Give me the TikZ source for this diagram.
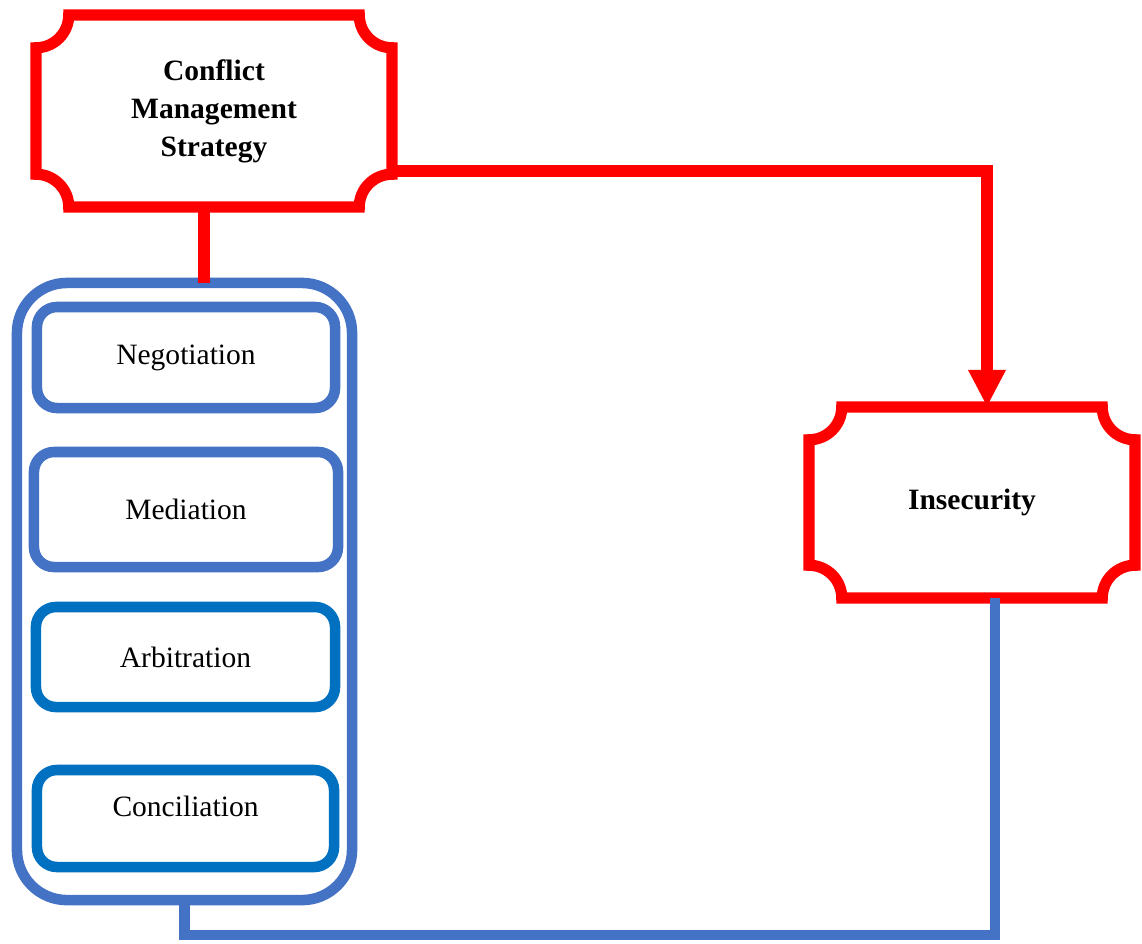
\documentclass[tikz,border=0pt]{standalone}
\usepackage{fontspec}
\setmainfont{Liberation Serif}
\usepackage{tikz}
\usetikzlibrary{arrows.meta}

\definecolor{boxred}{HTML}{FF0000}
\definecolor{boxblue}{HTML}{4472C4}
\definecolor{darkblue}{HTML}{0070C0}

\newcommand{\textsz}{\fontsize{21}{27}\selectfont}

%角を内側に丸めた枠
\newcommand{\plaqueframe}[2]{%
  \draw[redline] ([yshift=-#2]#1.north west) arc[start angle=-90, end angle=0, radius=#2]
    -- ([xshift=-#2]#1.north east) arc[start angle=180, end angle=270, radius=#2]
    -- ([yshift=#2]#1.south east) arc[start angle=90, end angle=180, radius=#2]
    -- ([xshift=#2]#1.south west) arc[start angle=0, end angle=90, radius=#2]
    -- cycle;}

\begin{document}
\begin{tikzpicture}[x=0.025cm, y=0.025cm,
    redline/.style = {draw=boxred, line width=8pt},
    blueline/.style = {draw=boxblue, line width=7.5pt},
    plaque/.style = {rectangle, outer sep=0pt, align=center, font=\textsz\bfseries},
    outerbox/.style = {rectangle, draw=boxblue, line width=7.5pt, rounded corners=1.25cm, outer sep=0pt},
    itembox/.style = {rectangle, draw=#1, line width=7.5pt, rounded corners=0.5cm, outer sep=0pt, font=\textsz},
  ]
  \useasboundingbox (0,0) rectangle (1142,-943);

  %赤い枠
  \node[plaque, minimum width=8.9cm, minimum height=4.8cm] (cms) at (214,-111) {Conflict\\Management\\Strategy};
  \plaqueframe{cms}{0.82cm}
  \node[plaque, minimum width=8.15cm, minimum height=4.775cm] (ins) at (972,-502.5) {Insecurity};
  \plaqueframe{ins}{0.82cm}

  %青い枠
  \node[outerbox, minimum width=8.375cm, minimum height=15.425cm] (strat) at (184.5,-591.5) {};
  \node[itembox=boxblue, minimum width=7.45cm, minimum height=2.525cm] (neg) at (186,-357.5) {Negotiation};
  \node[itembox=boxblue, minimum width=7.6cm, minimum height=2.875cm] (med) at (186,-509.5) {Mediation};
  \node[itembox=darkblue, minimum width=7.475cm, minimum height=2.5cm] (arb) at (185.5,-657) {Arbitration};
  \node[itembox=darkblue, minimum width=7.425cm, minimum height=2.425cm, text depth=0.6cm] (con) at (185.5,-818.5) {Conciliation};

  %連結線
  \draw[redline] ([xshift=-0.25cm]cms.south) -- ([xshift=-0.25cm]cms.south |- strat.north);
  \draw[redline, -{Triangle[width=0.875cm, length=0.925cm]}] ([yshift=-1.5cm]cms.east) -| ([xshift=0.375cm]ins.north);
  \draw[blueline] ([xshift=0.575cm]ins.south) |- ([yshift=-0.875cm]strat.south) -- (strat.south);
\end{tikzpicture}
\end{document}
